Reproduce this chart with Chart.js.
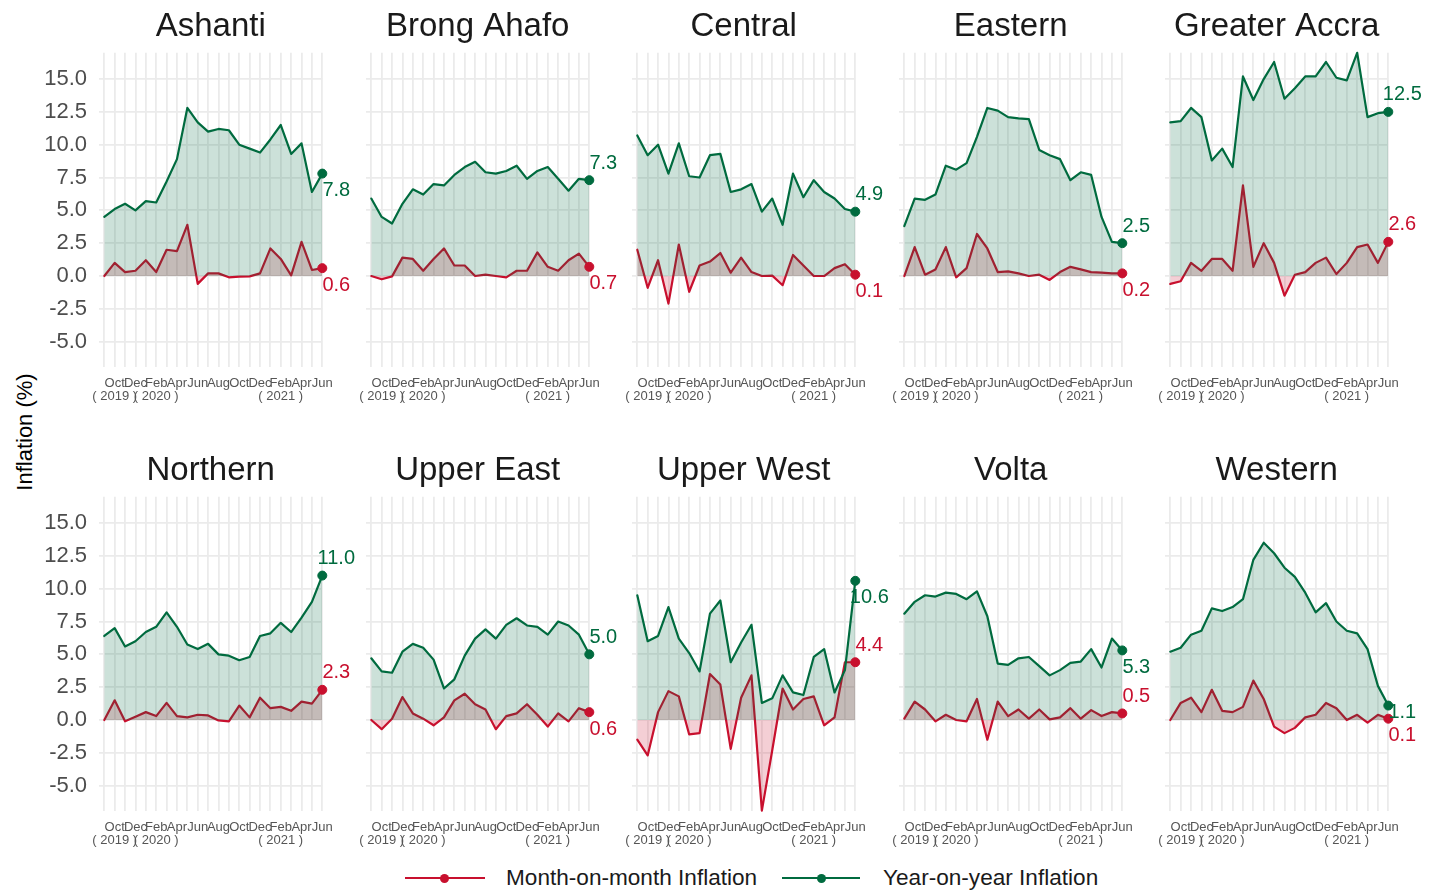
<!DOCTYPE html>
<html>
<head>
<meta charset="utf-8">
<title>Regional inflation, Ghana</title>
<script src="https://cdn.jsdelivr.net/npm/chart.js@4.4.1/dist/chart.umd.min.js"></script>
<style>
  body { margin: 0; background: #fff; font-family: 'Liberation Sans', Arial, sans-serif; }
  #page { position: relative; width: 1437px; height: 890px; overflow: hidden; }
  canvas { position: absolute; }
  .ytitle { position: absolute; left: 25px; top: 432px; transform: translate(-50%, -50%) rotate(-90deg);
            font-size: 22px; color: #000; white-space: nowrap; }
  .key { position: absolute; top: 864px; height: 28px; line-height: 28px; font-size: 22.6px; color: #1a1a1a; white-space: nowrap; }
  .swatch { position: absolute; top: 877px; height: 2.4px; }
  .dot { position: absolute; top: 874px; width: 9px; height: 9px; border-radius: 50%; }
</style>
</head>
<body>
<div id="page">
  <div class="ytitle">Inflation (%)</div>
  <div class="swatch" style="left:405px;width:80px;background:#c8102e"></div>
  <div class="dot" style="left:440px;background:#c8102e"></div>
  <div class="key" style="left:506px">Month-on-month Inflation</div>
  <div class="swatch" style="left:782px;width:78px;background:#006b3f"></div>
  <div class="dot" style="left:817px;background:#006b3f"></div>
  <div class="key" style="left:883px">Year-on-year Inflation</div>
</div>
<script>
// Sep 2019 .. Jun 2021
const months = ['Sep','Oct','Nov','Dec','Jan','Feb','Mar','Apr','May','Jun','Jul','Aug',
                'Sep','Oct','Nov','Dec','Jan','Feb','Mar','Apr','May','Jun'];
const tickMonths = ['', 'Oct', '', 'Dec', '', 'Feb', '', 'Apr', '', 'Jun', '', 'Aug',
                    '', 'Oct', '', 'Dec', '', 'Feb', '', 'Apr', '', 'Jun'];
const tickYears = ['', '( 2019 )', '', '', '', '( 2020 )', '', '', '', '', '', '',
                   '', '', '', '', '', '( 2021 )', '', '', '', ''];
const yTicks = [-5, -2.5, 0, 2.5, 5, 7.5, 10, 12.5, 15];

const regions = ['Ashanti', 'Brong Ahafo', 'Central', 'Eastern', 'Greater Accra',
                 'Northern', 'Upper East', 'Upper West', 'Volta', 'Western'];

const ashantiYoY = [4.5, 5.1, 5.5, 5.0, 5.7, 5.6, 7.2, 8.9, 12.8, 11.7, 11.0, 11.2, 11.1, 10.0, 9.7, 9.4, 10.4, 11.5, 9.3, 10.1, 6.4, 7.8];
const ashantiMoM = [0.0, 1.0, 0.3, 0.4, 1.2, 0.3, 2.0, 1.9, 3.9, -0.6, 0.2, 0.2, -0.1, -0.05, -0.03, 0.2, 2.1, 1.3, 0.05, 2.6, 0.46, 0.6];
const brongYoY = [5.9, 4.5, 4.0, 5.5, 6.6, 6.2, 7.0, 6.9, 7.7, 8.3, 8.7, 7.9, 7.8, 8.0, 8.4, 7.4, 8.0, 8.3, 7.4, 6.5, 7.4, 7.3];
const brongMoM = [0.0, -0.25, -0.03, 1.4, 1.3, 0.4, 1.3, 2.1, 0.8, 0.8, 0.0, 0.1, 0.0, -0.1, 0.4, 0.4, 1.8, 0.7, 0.4, 1.2, 1.7, 0.7];
const centralYoY = [10.7, 9.2, 10.0, 7.8, 10.1, 7.6, 7.5, 9.2, 9.3, 6.4, 6.6, 7.0, 4.9, 5.9, 3.9, 7.8, 6.0, 7.3, 6.4, 5.9, 5.1, 4.9];
const centralMoM = [2.0, -0.9, 1.2, -2.1, 2.4, -1.2, 0.8, 1.1, 1.75, 0.25, 1.4, 0.3, 0.0, 0.03, -0.7, 1.6, 0.8, 0.0, 0.0, 0.6, 0.9, 0.1];
const easternYoY = [3.8, 5.9, 5.8, 6.2, 8.4, 8.1, 8.6, 10.6, 12.8, 12.6, 12.1, 12.0, 11.95, 9.6, 9.2, 8.9, 7.3, 7.9, 7.7, 4.5, 2.6, 2.5];
const easternMoM = [0.0, 2.2, 0.1, 0.5, 2.2, -0.1, 0.6, 3.2, 2.1, 0.3, 0.35, 0.2, 0.0, 0.1, -0.3, 0.3, 0.7, 0.5, 0.3, 0.25, 0.2, 0.2];
const accraYoY = [11.7, 11.8, 12.8, 12.1, 8.8, 9.7, 8.3, 15.2, 13.4, 15.0, 16.3, 13.5, 14.3, 15.2, 15.2, 16.3, 15.1, 14.9, 17.0, 12.1, 12.4, 12.5];
const accraMoM = [-0.6, -0.4, 1.0, 0.4, 1.3, 1.3, 0.4, 6.9, 0.7, 2.5, 1.0, -1.5, 0.1, 0.3, 1.0, 1.4, 0.15, 1.0, 2.2, 2.4, 1.0, 2.6];
const northernYoY = [6.4, 7.0, 5.6, 6.0, 6.7, 7.1, 8.2, 7.1, 5.75, 5.4, 5.8, 5.0, 4.9, 4.55, 4.8, 6.4, 6.6, 7.4, 6.7, 7.8, 9.0, 11.0];
const northernMoM = [0.0, 1.5, -0.1, 0.25, 0.6, 0.3, 1.3, 0.3, 0.2, 0.4, 0.35, -0.03, -0.1, 1.1, 0.2, 1.7, 0.9, 1.0, 0.7, 1.4, 1.25, 2.3];
const upperEastYoY = [4.7, 3.7, 3.6, 5.2, 5.8, 5.5, 4.6, 2.4, 3.1, 4.9, 6.2, 6.9, 6.2, 7.25, 7.75, 7.2, 7.1, 6.5, 7.5, 7.2, 6.5, 5.0];
const upperEastMoM = [0.0, -0.7, 0.1, 1.75, 0.5, 0.1, -0.4, 0.2, 1.5, 2.0, 1.2, 0.8, -0.7, 0.3, 0.5, 1.2, 0.4, -0.5, 0.5, -0.1, 0.9, 0.6];
const upperWestYoY = [9.5, 6.0, 6.4, 8.6, 6.2, 5.1, 3.7, 8.1, 9.1, 4.4, 5.9, 7.25, 1.3, 1.65, 3.4, 2.1, 1.9, 4.8, 5.4, 2.1, 3.8, 10.6];
const upperWestMoM = [-1.5, -2.7, 0.6, 2.2, 1.8, -1.1, -1.0, 3.5, 2.7, -2.2, 1.7, 3.4, -6.9, -2.3, 2.4, 0.8, 1.6, 1.8, -0.4, 0.2, 4.4, 4.4];
const voltaYoY = [8.1, 9.0, 9.5, 9.4, 9.7, 9.6, 9.2, 9.8, 7.9, 4.3, 4.2, 4.7, 4.8, 4.1, 3.4, 3.8, 4.35, 4.45, 5.4, 4.0, 6.2, 5.3];
const voltaMoM = [0.1, 1.4, 0.8, -0.1, 0.4, 0.0, -0.1, 1.6, -1.5, 1.4, 0.3, 0.8, 0.1, 0.8, 0.05, 0.2, 0.9, 0.1, 0.75, 0.3, 0.6, 0.5];
const westernYoY = [5.2, 5.5, 6.5, 6.8, 8.5, 8.3, 8.6, 9.2, 12.2, 13.5, 12.7, 11.6, 10.9, 9.7, 8.2, 8.9, 7.5, 6.8, 6.6, 5.4, 2.6, 1.1];
const westernMoM = [0.0, 1.3, 1.7, 0.6, 2.3, 0.7, 0.6, 1.0, 3.0, 1.6, -0.5, -1.0, -0.6, 0.2, 0.4, 1.3, 0.9, 0.0, 0.4, -0.2, 0.4, 0.1];

const yoySeries = [ashantiYoY, brongYoY, centralYoY, easternYoY, accraYoY,
                   northernYoY, upperEastYoY, upperWestYoY, voltaYoY, westernYoY];
const momSeries = [ashantiMoM, brongMoM, centralMoM, easternMoM, accraMoM,
                   northernMoM, upperEastMoM, upperWestMoM, voltaMoM, westernMoM];

// where the end-value label sits relative to its point
const yoyLabelSide = ['below', 'above', 'above', 'above', 'above', 'above', 'above', 'below', 'below', 'right'];
const momLabelSide = ['below', 'below', 'below', 'below', 'above', 'above', 'below', 'above', 'above', 'below'];

const RED = '#c8102e';
const GREEN = '#006b3f';
const RED_FILL = 'rgba(200,16,46,0.2)';
const GREEN_FILL = 'rgba(0,107,63,0.2)';
const GRID = '#ebebeb';
const FONT = "'Liberation Sans', Arial, sans-serif";

Chart.defaults.font.family = FONT;

const page = document.getElementById('page');
const W = 372, H = 410;
const rowTop = [0, 444];
const colStep = 266.5;
const yAxisWidth = 99.1;
const xAxisHeight = 43.4;
const plotRight = 322.3;

const toXY = arr => arr.map((v, i) => ({ x: i, y: v }));
const lastOnly = arr => [{ x: arr.length - 1, y: arr[arr.length - 1] }];

regions.forEach((name, k) => {
  const col = k % 5;
  const row = Math.floor(k / 5);
  const yoy = yoySeries[k];
  const mom = momSeries[k];

  const canvas = document.createElement('canvas');
  canvas.width = W;
  canvas.height = H;
  canvas.style.left = Math.round(col * colStep) + 'px';
  canvas.style.top = rowTop[row] + 'px';
  page.appendChild(canvas);

  const endLabels = {
    id: 'endLabels',
    afterDatasetsDraw(chart) {
      const c = chart.ctx;
      const items = [
        { ds: 4, side: yoyLabelSide[k], color: GREEN, text: yoy[yoy.length - 1].toFixed(1) },
        { ds: 3, side: momLabelSide[k], color: RED, text: mom[mom.length - 1].toFixed(1) }
      ];
      c.save();
      c.font = '20px ' + FONT;
      c.textAlign = 'center';
      c.textBaseline = 'middle';
      items.forEach(it => {
        const pt = chart.getDatasetMeta(it.ds).data[0];
        const dy = it.side === 'above' ? -17 : it.side === 'below' ? 17 : 7;
        c.fillStyle = it.color;
        c.fillText(it.text, pt.x + 14, pt.y + dy);
      });
      c.restore();
    }
  };

  new Chart(canvas.getContext('2d'), {
    type: 'line',
    data: {
      datasets: [
        { label: 'Month-on-month Inflation', data: toXY(mom), borderColor: RED, borderWidth: 2.2,
          backgroundColor: RED_FILL, fill: 'origin', pointRadius: 0, order: 4, clip: false },
        { label: 'yoy area', data: toXY(yoy), borderWidth: 0, borderColor: 'rgba(0,0,0,0)',
          backgroundColor: GREEN_FILL, fill: 'origin', pointRadius: 0, order: 3, clip: false },
        { label: 'Year-on-year Inflation', data: toXY(yoy), borderColor: GREEN, borderWidth: 2.2,
          fill: false, pointRadius: 0, order: 2, clip: false },
        { label: 'mom end', data: lastOnly(mom), showLine: false, pointRadius: 4.5,
          pointBackgroundColor: RED, pointBorderColor: RED, order: 1, clip: false },
        { label: 'yoy end', data: lastOnly(yoy), showLine: false, pointRadius: 4.5,
          pointBackgroundColor: GREEN, pointBorderColor: GREEN, order: 0, clip: false }
      ]
    },
    options: {
      responsive: false,
      animation: false,
      events: [],
      layout: { padding: { left: 0, right: W - plotRight, top: 0, bottom: 0 } },
      elements: { line: { tension: 0, borderJoinStyle: 'round', borderCapStyle: 'round' } },
      plugins: {
        legend: { display: false },
        tooltip: { enabled: false },
        title: {
          display: true,
          text: name,
          fullSize: false,
          color: '#1a1a1a',
          font: { size: 33, weight: 'normal' },
          padding: { top: 6.7, bottom: 6.5 }
        }
      },
      scales: {
        x: {
          type: 'linear',
          min: -0.5,
          max: 21,
          afterBuildTicks: s => { s.ticks = months.map((m, i) => ({ value: i })); },
          afterFit: s => { s.height = xAxisHeight; },
          grid: { color: GRID, lineWidth: 1.8, drawTicks: false },
          border: { display: false },
          ticks: {
            autoSkip: false,
            maxRotation: 0,
            minRotation: 0,
            padding: 9.6,
            color: '#555555',
            font: { size: 13, lineHeight: 1.05 },
            callback: (v, i) => {
              const m = tickMonths[i];
              if (!m) return '';
              return tickYears[i] ? [m, tickYears[i]] : m;
            }
          }
        },
        y: {
          min: -6.9,
          max: 17,
          afterBuildTicks: s => { s.ticks = yTicks.map(v => ({ value: v })); },
          afterFit: s => { s.width = yAxisWidth; },
          grid: { color: GRID, lineWidth: 1.8, drawTicks: false },
          border: { display: false },
          ticks: {
            display: col === 0,
            padding: 12,
            color: '#4d4d4d',
            font: { size: 22 },
            callback: v => v.toFixed(1)
          }
        }
      }
    },
    plugins: [endLabels]
  });
});
</script>
</body>
</html>
